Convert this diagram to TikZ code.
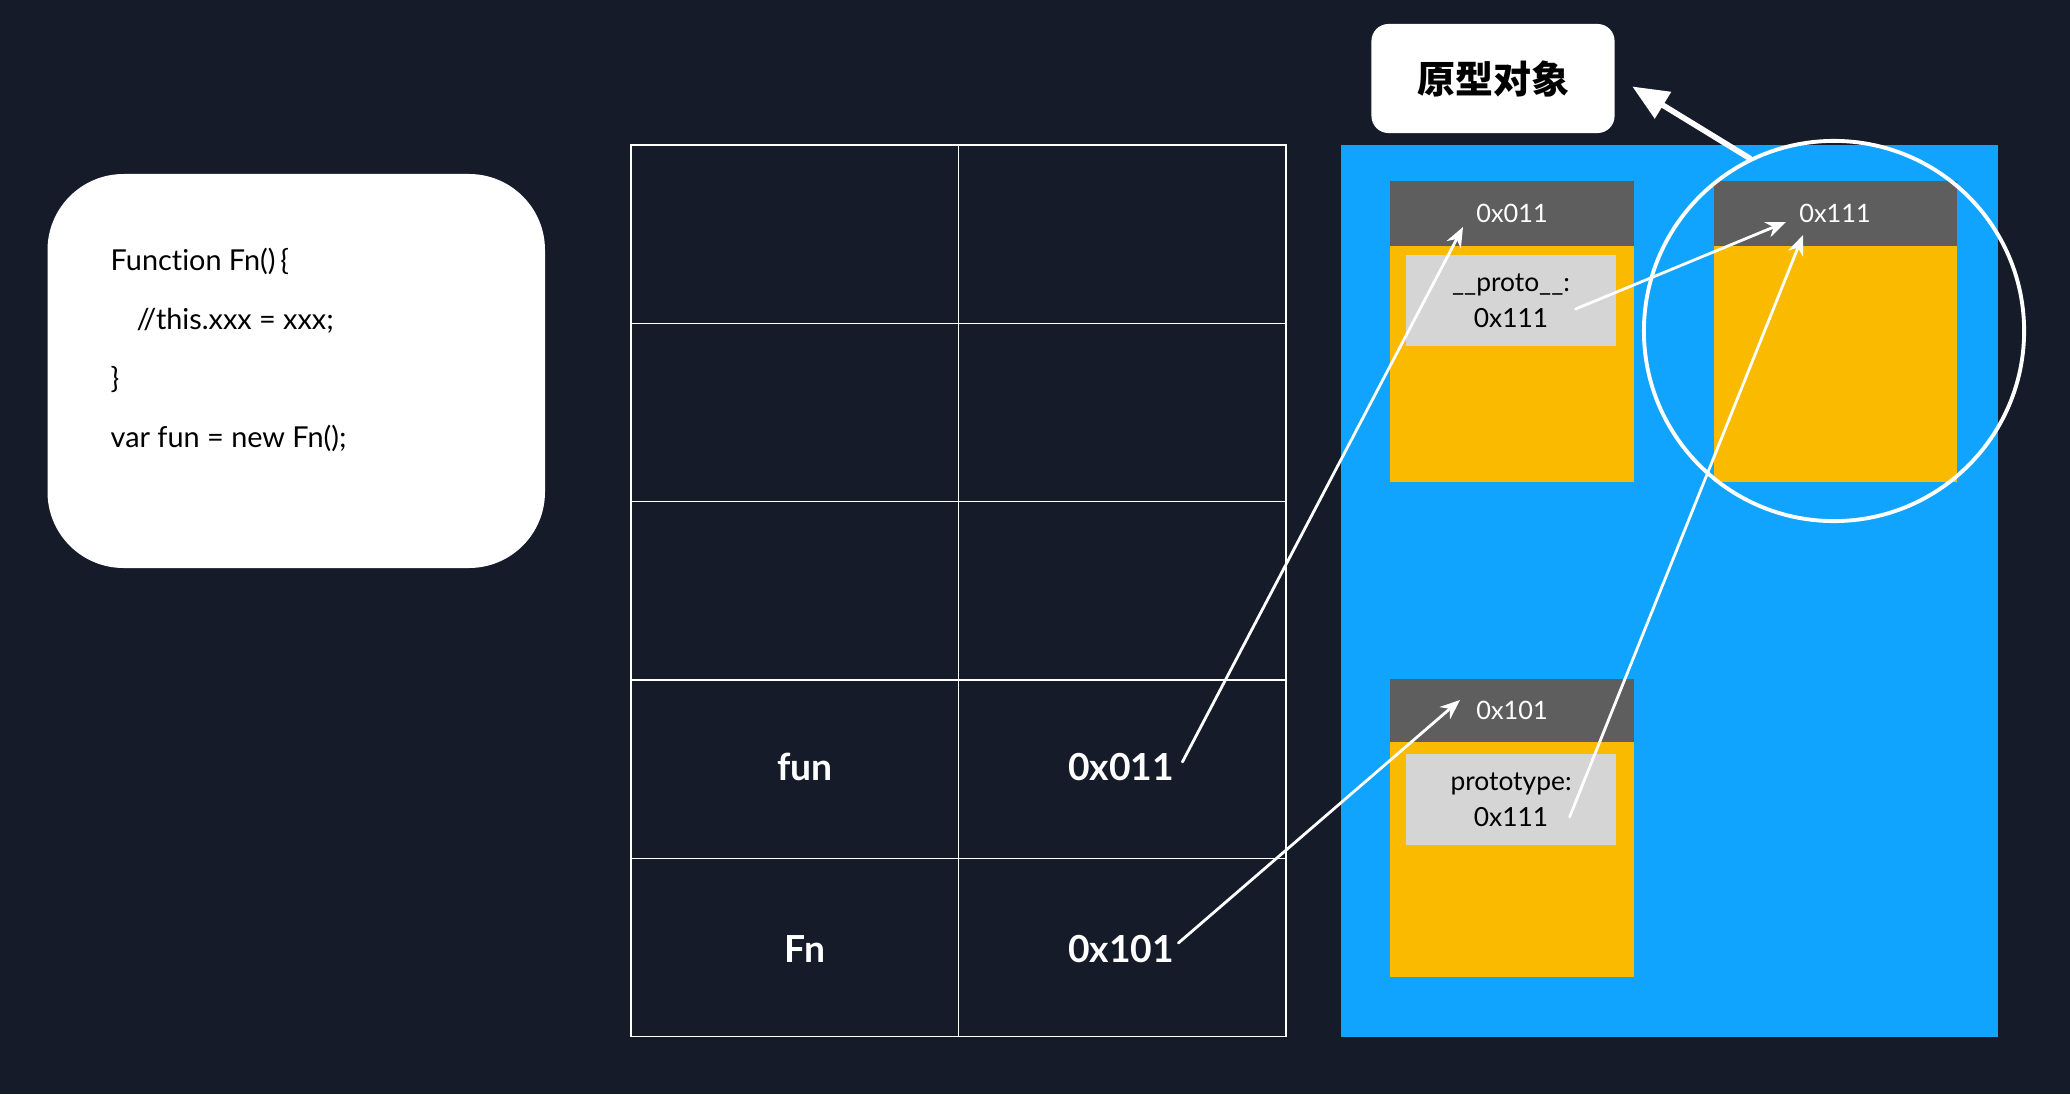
\documentclass[tikz,border=0pt]{standalone}
\usepackage{fontspec}
\setmainfont{Lato}[Ligatures=NoCommon]
\newfontfamily\cjkfont{Noto Sans CJK SC}
\usetikzlibrary{arrows.meta,calc}
\definecolor{MemBack}{RGB}{21,27,41}
\definecolor{MemHeap}{RGB}{16,164,255}
\definecolor{MemObject}{RGB}{249,186,0}
\definecolor{MemHeader}{RGB}{94,94,94}
\definecolor{MemSlot}{RGB}{213,213,213}
\tikzset{
    mem/diagram/.style={
        x=0.01cm, y=-0.01cm,
        line cap=round,
        line join=round
    },
    mem/grid/.style={draw=white, line width=0.35pt, line cap=rect},
    mem/card/.style={fill=white, rounded corners=7.6mm},
    mem/code/.style={
        font=\fontsize{8.2}{9}\selectfont, text=black,
        anchor=base west, inner sep=0pt
    },
    mem/name/.style={font=\fontsize{10.6}{12}\selectfont\bfseries, text=white},
    mem/addr/.style={font=\fontsize{7.2}{9}\selectfont, text=white},
    mem/slot/.style={font=\fontsize{7.5}{9}\selectfont, text=black},
    mem/ring/.style={
        circle, draw=white, line width=1.1pt,
        minimum size=38mm, inner sep=0pt
    },
    mem/tag/.style={
        fill=white, rounded corners=1.7mm,
        minimum width=24.3mm, minimum height=10.9mm,
        font=\cjkfont\bfseries\fontsize{10.8}{12}\selectfont, text=black
    },
    mem/pointer/.style={
        draw=white, line width=0.8pt,
        -{Stealth[length=2mm, width=1.6mm]}
    },
    mem/proto/.style={
        draw=white, line width=1.6pt,
        -{Triangle[length=3.6mm, width=3mm]}
    }
}
\begin{document}
\begin{tikzpicture}[mem/diagram]
    \fill[MemBack] (0,0) rectangle (2070,1094);
    \useasboundingbox (0,0) rectangle (2070,1094);
    % source code card
    \fill[mem/card] (47.5,174) rectangle (545,568);
    \node[mem/code] (line1) at (110,270) {Function Fn()\,\{};
    \node[mem/code] (line2) at (136,329) {//this.xxx = xxx;};
    \node[mem/code] (line3) at (110,388) {\}};
    \node[mem/code] (line4) at (110,447) {var fun = new Fn();};
    % stack table
    \foreach \r in {0,...,5}
        \draw[mem/grid] (631,{145+178.3*\r}) -- (1286,{145+178.3*\r});
    \foreach \c in {631,958.5,1286}
        \draw[mem/grid] (\c,145) -- (\c,1036.5);
    \node[mem/name] (varfun) at (805,767) {fun};
    \node[mem/name] (addrfun) at (1121,767) {0x011};
    \node[mem/name] (varfn) at (805,949) {Fn};
    \node[mem/name] (addrfn) at (1121,949) {0x101};
    % heap
    \fill[MemHeap] (1341,145) rectangle (1997.5,1036.5);
    \fill[MemObject] (1390,181) rectangle (1634,482);
    \fill[MemHeader] (1390,181) rectangle (1634,245.5);
    \fill[MemObject] (1713.5,181) rectangle (1956.5,482);
    \fill[MemHeader] (1713.5,181) rectangle (1956.5,245.5);
    \fill[MemObject] (1390,678.5) rectangle (1634,977);
    \fill[MemHeader] (1390,678.5) rectangle (1634,742);
    \fill[MemSlot] (1406,255) rectangle (1616,346);
    \fill[MemSlot] (1406,754) rectangle (1616,845);
    \node[mem/addr] (hfun) at (1512,213) {0x011};
    \node[mem/addr] (hproto) at (1835,213) {0x111};
    \node[mem/addr] (hfn) at (1512,710) {0x101};
    \node[mem/slot] (protokey) at (1511,285) {\_\_proto\_\_:};
    \node[mem/slot] (protoval) at (1511,318) {0x111};
    \node[mem/slot] (typekey) at (1511,784) {prototype:};
    \node[mem/slot] (typeval) at (1511,817) {0x111};
    % the prototype object
    \node[mem/ring] (protoring) at (1834,331) {};
    \node[mem/tag] (protolabel) at (1493,78.5) {原型对象};
    \coordinate (tipfun) at (1463,227);
    \coordinate (tipfn) at (1460,700);
    \coordinate (tipproto) at (1786,222);
    \coordinate (tiptype) at (1803,235);
    \draw[mem/pointer] ([xshift=-0.4mm,yshift=0.5mm]addrfun.east) -- (tipfun);
    \draw[mem/pointer] ([xshift=-0.8mm,yshift=0.6mm]addrfn.east) -- (tipfn);
    \draw[mem/pointer] ([xshift=1.5mm,yshift=0.9mm]protoval.east) -- (tipproto);
    \draw[mem/pointer] ([xshift=0.9mm]typeval.east) -- (tiptype);
    \draw[mem/proto] (protoring.116) -- ([xshift=1.7mm,yshift=-0.8mm]protolabel.east);
\end{tikzpicture}
\end{document}
